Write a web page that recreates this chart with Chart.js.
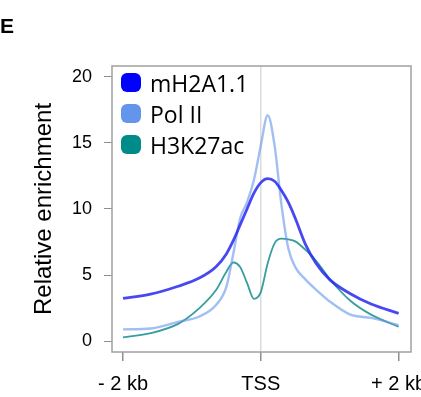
<!DOCTYPE html>
<html>
<head>
<meta charset="utf-8">
<script src="https://cdn.jsdelivr.net/npm/chart.js@4"></script>
<style>
	html, body { margin: 0; padding: 0; background: #fff; overflow: hidden; }
	#wrap { position: relative; width: 440px; height: 397px; }
	#panel { position: absolute; left: 0px; top: 14px; font: bold 21px "Liberation Sans", Arial, sans-serif; }
	#legend { position: absolute; left: 121px; top: 67px; font: 23px "Open Sans", "Noto Sans", sans-serif; }
	#legend div { height: 31px; display: flex; align-items: center; }
	#legend span.box { width: 20px; height: 19px; border-radius: 6px; margin-right: 9px; display: inline-block; }
</style>
</head>
<body>
<div id="wrap">
	<canvas id="graph_profile" width="440" height="397"></canvas>
	<div id="panel">E</div>
	<div id="legend"></div>
</div>
<script>
// x : 거리 (kb, TSS 기준)
const positions = [-2, -1.6, -1.2, -0.9, -0.65, -0.5, -0.4, -0.3, -0.2, -0.1, 0, 0.1, 0.2, 0.3, 0.4, 0.5, 0.65, 0.8, 1.0, 1.3, 1.6, 2.0];

// y : relative enrichment
const mh2a11 = [3.23, 3.55, 4.15, 4.75, 5.63, 6.6, 7.6, 8.8, 10.0, 11.2, 12.0, 12.3, 12.1, 11.4, 10.5, 9.3, 7.3, 5.9, 4.65, 3.58, 2.8, 2.1];
const polII = [0.88, 0.95, 1.45, 1.84, 2.73, 4.1, 6.6, 9.3, 10.5, 12.2, 14.8, 17.1, 14.8, 10.3, 7.0, 5.6, 4.65, 3.9, 3.0, 2.0, 1.75, 1.21];
const h3k27ac = [0.28, 0.6, 1.3, 2.45, 3.86, 5.25, 5.95, 5.6, 4.4, 3.2, 3.7, 5.9, 7.4, 7.75, 7.7, 7.55, 6.9, 6.1, 4.7, 3.05, 2.0, 1.08];

const seriesNames = ["mH2A1.1", "Pol II", "H3K27ac"];
const yTicks = [0, 5, 10, 15, 20];
const xTicks = [-2, 0, 2];
const xTickLabels = ["- 2 kb", "TSS", "+ 2 kb"];

function toPoints(vals) {
	return positions.map(function(x, i) { return { x: x, y: vals[i] }; });
}

// 박스 테두리
const boxPlugin = {
	id: "box",
	afterDraw: function(chart) {
		const a = chart.chartArea;
		const ctx = chart.ctx;
		ctx.save();
		ctx.strokeStyle = "#a0a0a0";
		ctx.lineWidth = 1.5;
		ctx.strokeRect(a.left, a.top, a.right - a.left, a.bottom - a.top);
		ctx.restore();
	}
};

const ctx = document.getElementById("graph_profile").getContext("2d");
const profileChart = new Chart(ctx, {
	type: "line",
	data: {
		datasets: [
			{
				label: seriesNames[0],
				data: toPoints(mh2a11),
				borderColor: "rgba(40, 40, 240, 0.85)",
				legendColor: "#0000ff",
				borderWidth: 2.8
			},
			{
				label: seriesNames[1],
				data: toPoints(polII),
				borderColor: "rgba(100, 149, 237, 0.6)",
				legendColor: "#6495ed",
				borderWidth: 2.4
			},
			{
				label: seriesNames[2],
				data: toPoints(h3k27ac),
				borderColor: "rgba(20, 140, 140, 0.85)",
				legendColor: "#008b8b",
				borderWidth: 1.8
			}
		]
	},
	options: {
		responsive: false,
		animation: false,
		elements: {
			point: { radius: 0 },
			line: { cubicInterpolationMode: "monotone", fill: false }
		},
		layout: { padding: { left: 30, top: 66, right: 29, bottom: 0 } },
		plugins: {
			legend: { display: false },
			tooltip: { enabled: false }
		},
		scales: {
			x: {
				type: "linear",
				min: -2.16,
				max: 2.18,
				afterBuildTicks: function(scale) {
					scale.ticks = xTicks.map(function(v) { return { value: v }; });
				},
				afterFit: function(scale) { scale.height = 45; },
				border: { display: false },
				grid: {
					drawOnChartArea: true,
					color: function(c) { return c.tick && c.tick.value === 0 ? "#dcdcdc" : "rgba(0,0,0,0)"; },
					lineWidth: 1.5,
					tickColor: "#909090",
					tickLength: 9
				},
				ticks: {
					color: "#000",
					padding: 11,
					maxRotation: 0,
					font: { family: "'Liberation Sans', Arial", size: 20 },
					callback: function(v) { return xTickLabels[xTicks.indexOf(v)]; }
				}
			},
			y: {
				min: -0.83,
				max: 20.83,
				afterBuildTicks: function(scale) {
					scale.ticks = yTicks.map(function(v) { return { value: v }; });
				},
				afterFit: function(scale) { scale.width = 82; },
				border: { display: false },
				grid: {
					drawOnChartArea: false,
					tickColor: "#909090",
					tickLength: 8
				},
				ticks: {
					color: "#000",
					padding: 12,
					font: { family: "'Liberation Sans', Arial", size: 18 }
				},
				title: {
					display: true,
					text: "Relative enrichment",
					color: "#000",
					padding: { top: 0, bottom: 0 },
					font: { family: "'Liberation Sans', Arial", size: 24 }
				}
			}
		}
	},
	plugins: [boxPlugin]
});

// 범례
const legendDiv = document.getElementById("legend");
profileChart.data.datasets.forEach(function(ds) {
	const row = document.createElement("div");
	row.innerHTML = "<span class=\"box\" style=\"background:" + ds.legendColor + "\"></span>" + ds.label;
	legendDiv.appendChild(row);
});
</script>
</body>
</html>
